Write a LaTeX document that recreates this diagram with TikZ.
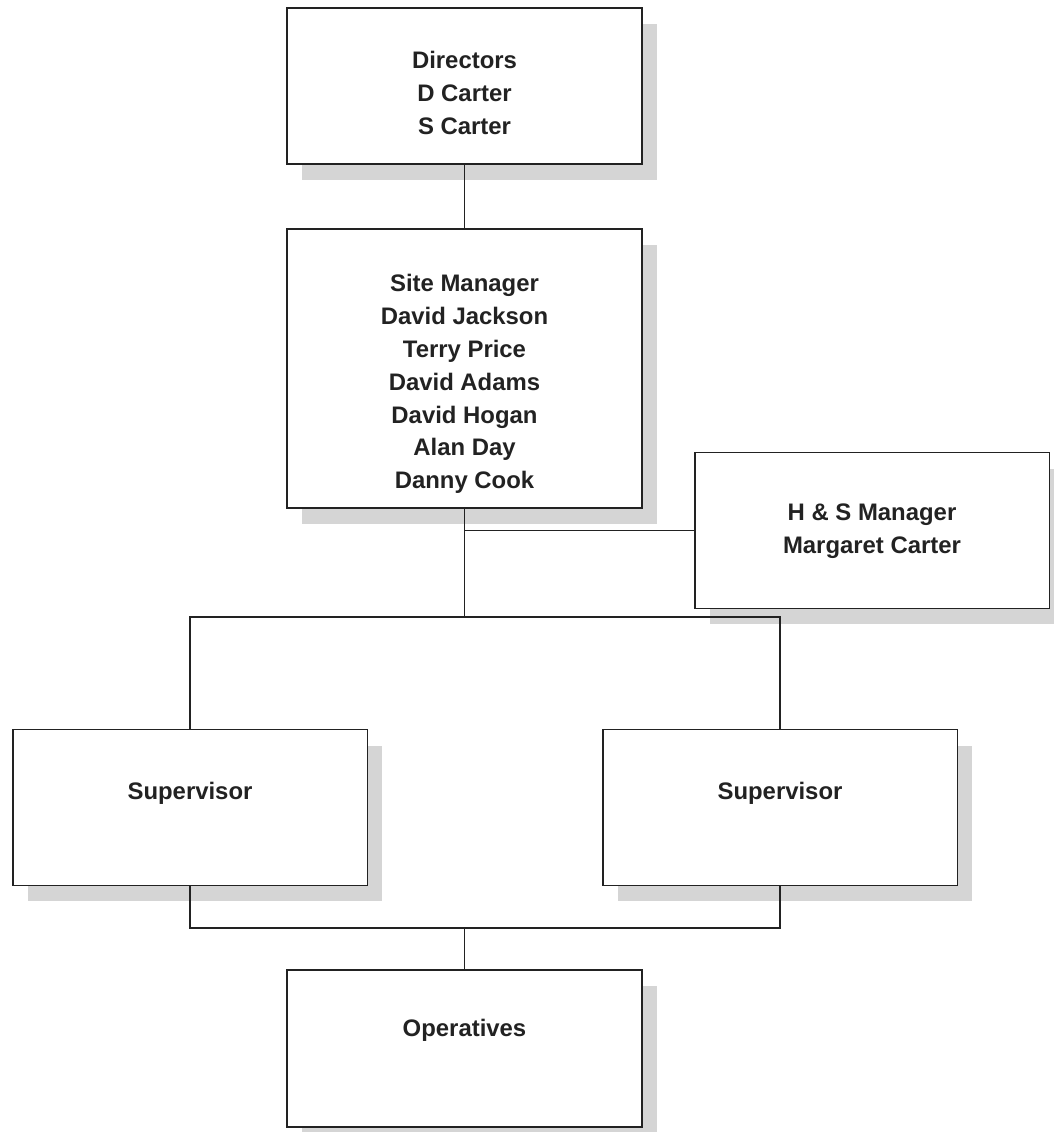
\documentclass[tikz,border=0pt]{standalone}
\usepackage{fontspec}
\setmainfont{Liberation Sans}
\usetikzlibrary{positioning,shadows}

\definecolor{linegray}{HTML}{222222}
\definecolor{shadowgray}{HTML}{D5D5D5}

\tikzset{
  box/.style={draw=linegray, line width=1.1pt, fill=white,
    minimum width=7.1cm, minimum height=3.12cm, inner sep=0pt,
    drop shadow={shadow xshift=0.3cm, shadow yshift=-0.32cm, fill=shadowgray, opacity=1}},
  lbl/.style={align=center, inner sep=0pt, text=linegray,
    font=\fontsize{13.6}{18.7}\selectfont\bfseries},
  conn/.style={draw=linegray, line width=0.9pt},
}

\begin{document}
\begin{tikzpicture}[x=0.02cm, y=-0.02cm]

        \useasboundingbox (0,0) rectangle (1054,1132);

        % boxes
        \node[box] (dir) at (464.5,86) {};
        \node[box, minimum height=5.58cm] (site) [below=1.26cm of dir] {};
        \node[box] (hs) at (872,530.5) {};
        \node[box] (supL) at (190,807.5) {};
        \node[box] (supR) at (780,807.5) {};
        \node[box, minimum height=3.14cm] (ops) at (464.5,1048.5) {};

        % texts
        \node[lbl, below=0.88cm of dir.north] (dirT) {Directors\\D Carter\\S Carter};
        \node[lbl, below=0.92cm of site.north] (siteT) {Site Manager\\David Jackson\\Terry Price\\David Adams\\David Hogan\\Alan Day\\Danny Cook};
        \node[lbl, below=1.04cm of hs.north] (hsT) {H \& S Manager\\Margaret Carter};
        \node[lbl, below=1.06cm of supL.north] (supLT) {Supervisor};
        \node[lbl, below=1.06cm of supR.north] (supRT) {Supervisor};
        \node[lbl, below=1.0cm of ops.north] (opsT) {Operatives};

        \coordinate (split) at (464.5,617);
        \coordinate (merge) at (464.5,928);

        \draw[conn] (dir) to (site);
        \draw[conn] (site.south) to (split);
        \draw[conn] (site.south |- hs.west) to (hs.west);
        \draw[conn] (supL.north) |- (split) -| (supR.north);
        \draw[conn] (supL.south) |- (merge) -| (supR.south);
        \draw[conn] (merge) to (ops);

\end{tikzpicture}
\end{document}
